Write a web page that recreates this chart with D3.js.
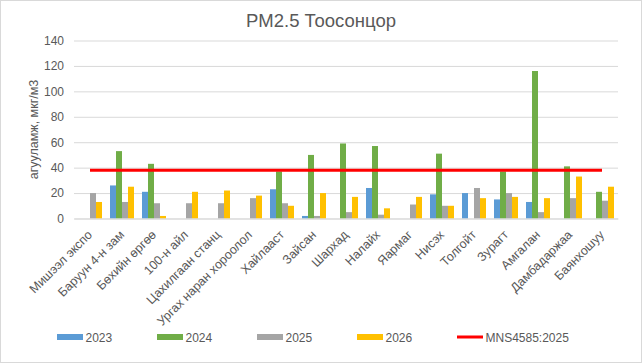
<!DOCTYPE html>
<html>
<head>
<meta charset="utf-8">
<script src="https://cdn.jsdelivr.net/npm/d3@7/dist/d3.min.js"></script>
<style>
  body { margin: 0; background: #fff; }
  svg text { font-family: "Liberation Sans", Arial, sans-serif; fill: #595959; }
</style>
</head>
<body>
<div id="chart"></div>
<script>

// data
let stations = ["Мишээл экспо", "Баруун 4-н зам", "Бөхийн өргөө", "100-н айл", "Цахилгаан станц",
    "Ургах наран хороолол", "Хайлааст", "Зайсан", "Шархад", "Налайх", "Яармаг", "Нисэх",
    "Толгойт", "Зурагт", "Амгалан", "Дамбадаржаа", "Баянхошуу"];
let years = ["2023", "2024", "2025", "2026"];
let v2023 = [null, 26, 21, null, null, null, 23, 2, null, 24, null, 19, 20, 15, 13, null, null];
let v2024 = [null, 53, 43, null, null, null, 37, 50, 59, 57, null, 51, null, 37, 116, 41, 21];
let v2025 = [20, 13, 12, 12, 12, 16, 12, 2, 5, 3, 11, 10, 24, 20, 5, 16, 14];
let v2026 = [13, 25, 2, 21, 22, 18, 10, 20, 17, 8, 17, 10, 16, 17, 16, 33, 25];
let limitName = "MNS4585:2025";
let limitValue = 38;
let yTicks = [0, 20, 40, 60, 80, 100, 120, 140];

let series = [v2023, v2024, v2025, v2026];
let colors = ["#5B9BD5", "#70AD47", "#A5A5A5", "#FFC000"];

let svgWidth = 642, svgHeight = 363;
let plot = {left: 74, right: 618, top: 40.5, bottom: 218.5};

let svg = d3.select("#chart").append("svg")
    .attr("width", svgWidth)
    .attr("height", svgHeight);

// chart border
svg.append("rect")
    .attr("x", 0.5).attr("y", 0.5)
    .attr("width", svgWidth - 1).attr("height", svgHeight - 1)
    .attr("fill", "#fff")
    .attr("stroke", "#d9d9d9");

let x = d3.scaleBand().domain(stations)
    .range([plot.left, plot.right])
    .paddingInner(0.25).paddingOuter(0.125);
let x1 = d3.scaleBand().domain(years).range([0, x.bandwidth()]);
let y = d3.scaleLinear().domain([0, 140]).range([plot.bottom, plot.top]);

// title
svg.append("text")
    .attr("x", 321).attr("y", 27)
    .attr("text-anchor", "middle")
    .attr("font-size", "18.5px")
    .text("PM2.5 Тоосонцор");

// gridlines + y axis labels
let yAxis = svg.append("g")
    .attr("transform", "translate(" + plot.left + ",0)")
    .call(d3.axisLeft(y).tickValues(yTicks).tickSize(-(plot.right - plot.left)).tickPadding(10));
yAxis.select(".domain").remove();
yAxis.selectAll(".tick line").attr("stroke", "#d9d9d9");
yAxis.selectAll(".tick text").attr("font-size", "12px").attr("fill", "#595959");

svg.append("text")
    .attr("transform", "translate(38," + ((plot.top + plot.bottom) / 2) + ") rotate(-90)")
    .attr("text-anchor", "middle")
    .attr("font-size", "12.5px")
    .text("агууламж, мкг/м3");

// bars
let groups = svg.selectAll(".station")
    .data(stations)
    .enter().append("g")
    .attr("transform", function(d) { return "translate(" + x(d) + ",0)"; });

groups.selectAll("rect")
    .data(function(d, i) {
        return years.map(function(yr, j) { return {year: yr, value: series[j][i], color: colors[j]}; })
            .filter(function(e) { return e.value !== null; });
    })
    .enter().append("rect")
    .attr("x", function(d) { return x1(d.year); })
    .attr("y", function(d) { return y(d.value); })
    .attr("width", x1.bandwidth())
    .attr("height", function(d) { return y(0) - y(d.value); })
    .attr("fill", function(d) { return d.color; });

// x axis
let xAxis = svg.append("g")
    .attr("transform", "translate(0," + plot.bottom + ")")
    .call(d3.axisBottom(x).tickSize(0).tickPadding(0));
xAxis.select(".domain").attr("stroke", "#d9d9d9");
xAxis.selectAll(".tick text")
    .attr("font-size", "12.5px")
    .attr("fill", "#595959")
    .attr("text-anchor", "end")
    .attr("dy", null)
    .attr("transform", "translate(3,17) rotate(-45)");

// limit line
let line = d3.line()
    .x(function(d) { return x(d) + x.bandwidth() / 2; })
    .y(function() { return y(limitValue); });
svg.append("path")
    .datum(stations)
    .attr("d", line)
    .attr("fill", "none")
    .attr("stroke", "#FF0000")
    .attr("stroke-width", 3);

// legend
let legendItems = years.map(function(yr, j) { return {name: yr, color: colors[j], line: false}; });
legendItems.push({name: limitName, color: "#FF0000", line: true});
let legendX = [57, 157, 257, 357, 457];

let legend = svg.selectAll(".legend")
    .data(legendItems)
    .enter().append("g")
    .attr("transform", function(d, i) { return "translate(" + legendX[i] + ",337)"; });

legend.append("rect")
    .attr("x", 0)
    .attr("y", function(d) { return d.line ? -1.5 : -3; })
    .attr("width", 26)
    .attr("height", function(d) { return d.line ? 3 : 6; })
    .attr("fill", function(d) { return d.color; });

legend.append("text")
    .attr("x", 28.5)
    .attr("y", 4.5)
    .attr("font-size", "12px")
    .text(function(d) { return d.name; });

</script>
</body>
</html>
